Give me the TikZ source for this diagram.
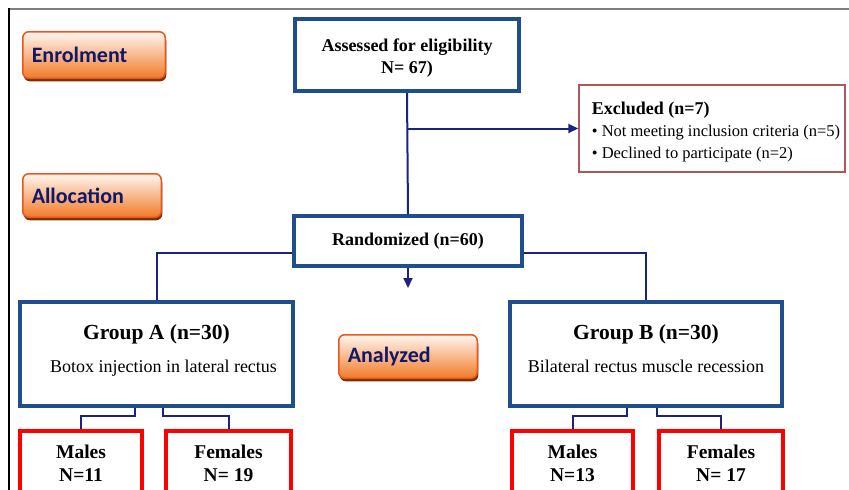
\documentclass[tikz,border=0pt]{standalone}
\usepackage{fontspec}
\setmainfont{Liberation Serif}
\newfontfamily\btnfont{Carlito}
\usetikzlibrary{arrows.meta,calc,shadows}
\definecolor{boxnavy}{HTML}{1F4E8C}
\definecolor{lnav}{HTML}{1A237E}
\definecolor{excred}{HTML}{A85A5A}
\definecolor{btntop}{HTML}{FFF6F0}
\definecolor{btnbot}{HTML}{F27A28}
\definecolor{btnborder}{HTML}{E8581A}
\definecolor{btnshadow}{HTML}{7A2E0A}
\definecolor{btntext}{HTML}{10186A}
\definecolor{framegray}{HTML}{7F7F7F}
\tikzset{
  btn/.style={draw=btnborder, line width=1.5pt, rounded corners=6pt,
    top color=btntop, bottom color=btnbot,
    drop shadow={shadow xshift=1pt, shadow yshift=-3pt, fill=btnshadow, opacity=1},
    font=\btnfont\bfseries\fontsize{22}{24}\selectfont, text=btntext,
    align=left, inner xsep=9pt, inner ysep=0pt},
  bluebox/.style={draw=boxnavy, line width=4pt, fill=white, align=center, inner sep=0pt,
    font=\bfseries\fontsize{18}{22}\selectfont},
  redbox/.style={draw=red, line width=4pt, fill=white, align=center, inner sep=0pt,
    anchor=north, minimum height=65pt, font=\bfseries\fontsize{19.5}{23}\selectfont},
  conn/.style={draw=lnav, line width=2pt},
  arr/.style={conn, -{Triangle[length=10pt,width=9pt]}}
}
\begin{document}
\begin{tikzpicture}[x=1pt,y=1pt]
\useasboundingbox (0,0) rectangle (849,-490);
\clip (0,0) rectangle (849,-490);
\fill[white] (0,0) rectangle (849,-490);
% frame
\draw[framegray, line width=2pt] (9,-8.5) -- (849,-8.5);
\draw[black, line width=1.2pt] (9,-8) -- (9,-490);

% phase buttons
\node[btn, text width=124.5pt, minimum height=46.5pt] (enrol) at (94,-55) {Enrolment};
\node[btn, text width=120.5pt, minimum height=43.5pt] (alloc) at (92,-195.5) {Allocation};
\node[btn, text width=120.5pt, minimum height=43.5pt] (anal) at (408,-356.5) {Analyzed};

% main boxes
\node[bluebox, minimum width=224pt, minimum height=72pt] (ass) at (407,-55)
  {\rule{0pt}{18pt}Assessed for eligibility\\N= 67)};
\node[draw=excred, line width=1.5pt, fill=white, align=left, inner sep=0pt,
  minimum width=266pt, minimum height=87pt, font=\fontsize{16.5}{22}\selectfont] (exc) at (712,-128.5)
  {\hspace*{8pt}{\bfseries\fontsize{18}{22}\selectfont\rule{0pt}{20.5pt}Excluded (n=7)}\\
   \hspace*{8pt}• Not meeting inclusion criteria (n=5)\\
   \hspace*{8pt}• Declined to participate (n=2)};
\node[bluebox, minimum width=228pt, minimum height=50pt] (rand) at (408,-241)
  {Randomized (n=60)};
\node[bluebox, minimum width=273pt, minimum height=104pt] (gA) at (156.5,-354)
  {{\fontsize{21.5}{24}\selectfont Group A (n=30)}\\[11pt]
   {\mdseries\fontsize{18}{22}\selectfont\hspace*{14pt}Botox injection in lateral rectus\rule[-10pt]{0pt}{10pt}}};
\node[bluebox, minimum width=272pt, minimum height=104pt] (gB) at (646,-354)
  {{\fontsize{21.5}{24}\selectfont Group B (n=30)}\\[11pt]
   {\mdseries\fontsize{18}{22}\selectfont Bilateral rectus muscle recession\rule[-10pt]{0pt}{10pt}}};

% gender boxes
\node[redbox, minimum width=122pt] (mA) at (81,-429) {Males\\N=11};
\node[redbox, minimum width=125pt] (fA) at (228.5,-429) {Females\\N= 19};
\node[redbox, minimum width=121pt] (mB) at (572.5,-429) {Males\\N=13};
\node[redbox, minimum width=124pt] (fB) at (721,-429) {Females\\N= 17};

% connectors
\coordinate (rdown) at (408,-288);
\draw[conn] (ass.south) -- (rand.north);
\draw[arr] (ass.south |- exc.west) -- (exc.west);
\draw[arr] (rand.south) -- (rdown);
\draw[conn] ([yshift=-12pt]rand.west) -| (gA.north);
\draw[conn] ([yshift=-12pt]rand.east) -| (gB.north);
\draw[conn] ([xshift=-21.5pt]gA.south) -- ++(0,-8) -| (mA.north);
\draw[conn] ([xshift=6.5pt]gA.south) -- ++(0,-8) -| (fA.north);
\draw[conn] ([xshift=-19pt]gB.south) -- ++(0,-8) -| (mB.north);
\draw[conn] ([xshift=11pt]gB.south) -- ++(0,-8) -| (fB.north);
\end{tikzpicture}
\end{document}
